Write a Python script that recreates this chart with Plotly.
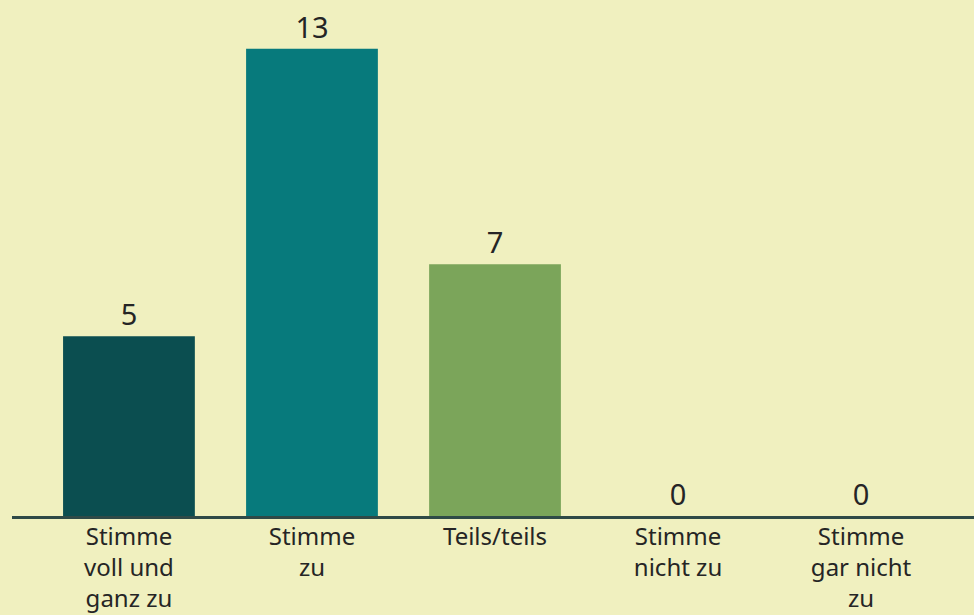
import plotly.graph_objects as go

categories = ["Stimme<br>voll und<br>ganz zu", "Stimme<br>zu", "Teils/teils",
              "Stimme<br>nicht zu", "Stimme<br>gar nicht<br>zu"]
values = [5, 13, 7, 0, 0]
bar_colors = ["#0B4E50", "#077A7C", "#7BA55A", "#7BA55A", "#7BA55A"]

BG = "#F0F0BF"
TXT = "#252525"

fig = go.Figure(go.Bar(
    x=list(range(len(categories))),
    y=values,
    marker=dict(color=bar_colors, line=dict(width=0)),
    text=[str(v) for v in values],
    textposition="outside",
    textfont=dict(family="Noto Sans", size=29, color=TXT),
    cliponaxis=False,
    width=0.72,
))

fig.update_layout(
    template="none",
    width=974, height=615,
    margin=dict(l=12, r=0, t=30, b=99, pad=0),
    paper_bgcolor=BG, plot_bgcolor=BG,
    showlegend=False,
    font=dict(family="Noto Sans", size=24, color=TXT),
    xaxis=dict(
        range=[-0.639, 4.617],
        tickmode="array",
        tickvals=list(range(len(categories))),
        ticktext=categories,
        showgrid=False, zeroline=False,
        showline=True, linecolor="#2F4A47", linewidth=3,
        ticks="", tickfont=dict(family="Noto Sans", size=24, color=TXT),
        ticklabelstandoff=-3,
        automargin=False,
        fixedrange=True,
    ),
    yaxis=dict(
        range=[0, 13.52],
        visible=False, showgrid=False, zeroline=False,
        automargin=False,
        fixedrange=True,
    ),
)

fig.write_html(
    "out.html",
    config={"displayModeBar": False},
    post_script="document.body.style.margin='0';document.body.style.background='" + BG + "';",
)
